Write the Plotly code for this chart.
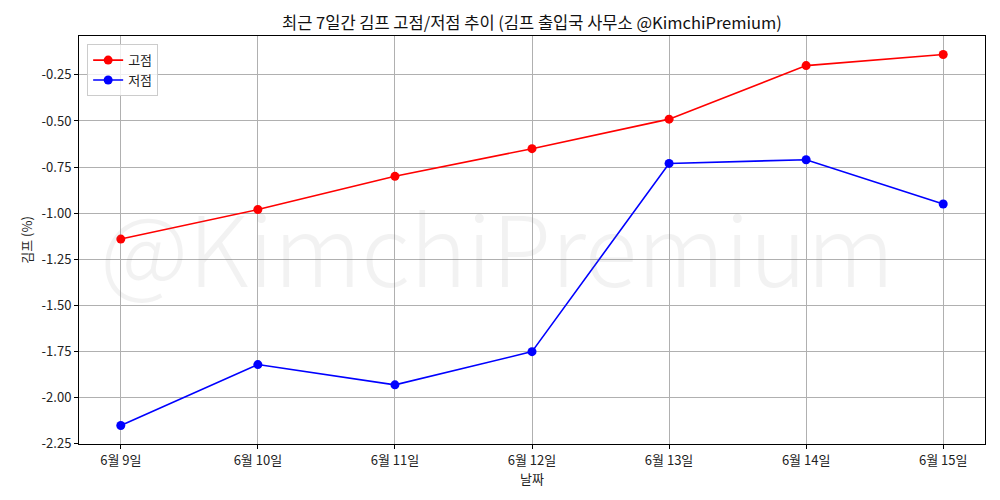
import plotly.graph_objects as go

dates = ["6월 9일", "6월 10일", "6월 11일", "6월 12일", "6월 13일", "6월 14일", "6월 15일"]
high_vals = [-1.14, -0.98, -0.80, -0.65, -0.49, -0.20, -0.14]
low_vals = [-2.15, -1.82, -1.93, -1.75, -0.73, -0.71, -0.95]
y_ticks = [-2.25, -2.00, -1.75, -1.50, -1.25, -1.00, -0.75, -0.50, -0.25]

FONT = "Noto Sans CJK KR, DejaVu Sans, sans-serif"
xidx = list(range(len(dates)))

fig = go.Figure()
fig.add_trace(go.Scatter(x=xidx, y=high_vals, mode="lines+markers", name="고점",
                         line=dict(color="red", width=1.6), marker=dict(color="red", size=9)))
fig.add_trace(go.Scatter(x=xidx, y=low_vals, mode="lines+markers", name="저점",
                         line=dict(color="blue", width=1.6), marker=dict(color="blue", size=9)))

fig.add_annotation(text="@KimchiPremium", xref="paper", yref="paper", x=0.461, y=0.49,
                   showarrow=False,
                   font=dict(family=FONT, size=97, weight=300, color="rgba(128,128,128,0.1)"))

fig.update_layout(
    width=1000, height=500,
    margin=dict(l=79, r=15, t=36, b=56),
    paper_bgcolor="white", plot_bgcolor="white",
    font=dict(family=FONT, size=13, color="#222"),
    title=dict(text="최근 7일간 김프 고점/저점 추이 (김프 출입국 사무소 @KimchiPremium)",
               x=0.532, xanchor="center", y=0.953, yanchor="middle", font=dict(size=16.5, color="#111")),
    legend=dict(x=0.009, y=0.98, xanchor="left", yanchor="top", bordercolor="#cccccc", borderwidth=1,
                bgcolor="rgba(255,255,255,0.8)", font=dict(size=13)),
    showlegend=True,
)
fig.update_xaxes(range=[-0.305, 6.305], tickvals=xidx, ticktext=dates, showgrid=True, gridcolor="#b0b0b0",
                 gridwidth=1, showline=True, linecolor="black", linewidth=1, mirror=True,
                 ticks="outside", ticklen=4, tickcolor="black", zeroline=False,
                 title=dict(text="날짜", font=dict(size=13), standoff=4))
fig.update_yaxes(range=[-2.2505, -0.0395], tickvals=y_ticks, ticktext=[f"{v:.2f}" for v in y_ticks],
                 showgrid=True, gridcolor="#b0b0b0", gridwidth=1, showline=True, linecolor="black",
                 linewidth=1, mirror=True, ticks="outside", ticklen=4, tickcolor="black", zeroline=False,
                 title=dict(text="김프 (%)", font=dict(size=13), standoff=6))

fig.write_html("out.html")
